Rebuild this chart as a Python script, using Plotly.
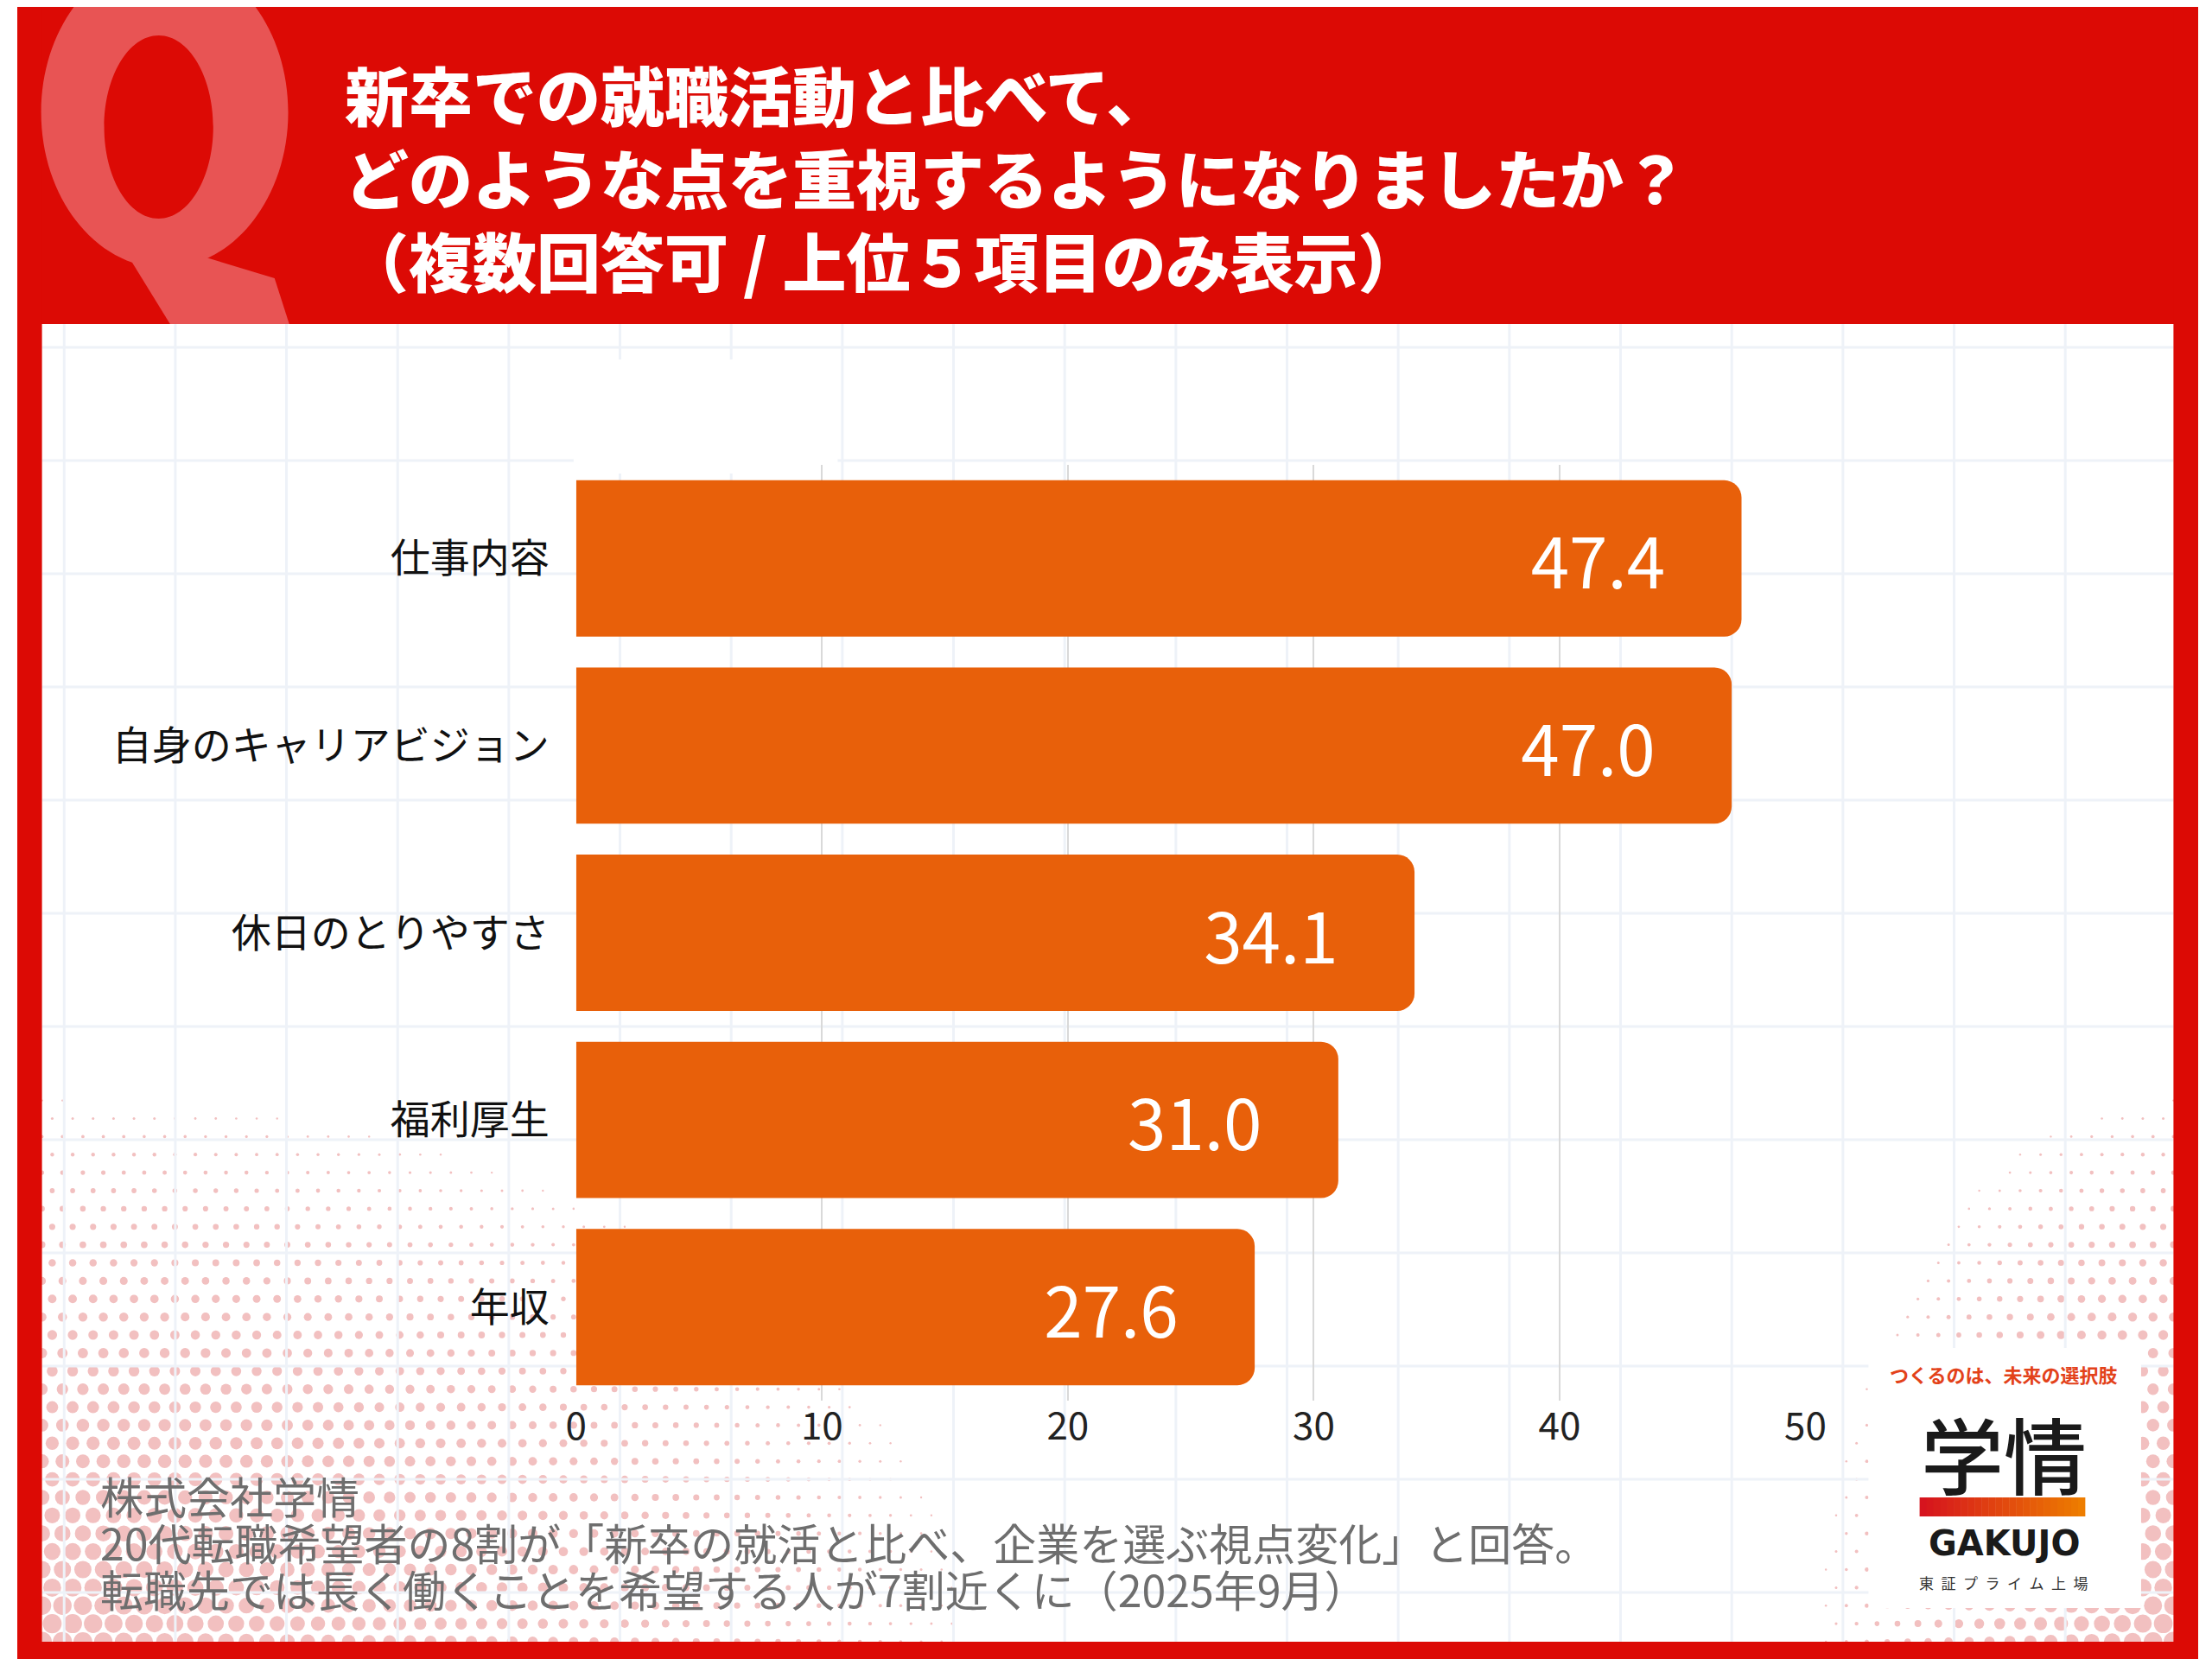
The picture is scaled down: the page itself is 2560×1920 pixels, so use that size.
import base64
import math

import plotly.graph_objects as go

# survey results (%), top to bottom
categories = ["仕事内容", "自身のキャリアビジョン", "休日のとりやすさ", "福利厚生", "年収"]
values = [47.4, 47.0, 34.1, 31.0, 27.6]
x_ticks = [0, 10, 20, 30, 40, 50]

title_lines = [
    "新卒での就職活動と比べて、",
    "どのような点を重視するようになりましたか？",
    "（複数回答可 / 上位５項目のみ表示）",
]
source_lines = [
    "株式会社学情",
    "20代転職希望者の8割が「新卒の就活と比べ、企業を選ぶ視点変化」と回答。",
    "転職先では長く働くことを希望する人が7割近くに（2025年9月）",
]

W, H = 2560, 1920
HEADER = 367
PANEL = (29, 2531, 1892)  # left, right, bottom of the white panel
RED = "#DC0A05"
BAR = "#E8600A"
JP = "Noto Sans CJK JP"


def px(x):
    return x / W


def py(y):
    # pixel from top -> paper fraction from bottom
    return (H - y) / H


def ellipse_path(cx, cy, rx, ry):
    # header coords: y measured from the top of the image
    k = 0.5523
    cy = HEADER - cy
    return (
        f"M {cx - rx},{cy} "
        f"C {cx - rx},{cy + k * ry} {cx - k * rx},{cy + ry} {cx},{cy + ry} "
        f"C {cx + k * rx},{cy + ry} {cx + rx},{cy + k * ry} {cx + rx},{cy} "
        f"C {cx + rx},{cy - k * ry} {cx + k * rx},{cy - ry} {cx},{cy - ry} "
        f"C {cx - k * rx},{cy - ry} {cx - rx},{cy - k * ry} {cx - rx},{cy} Z "
    )


def halftone(corner_x, corner_y, ext_x, ext_y, direction, step=24, rmax=11.5):
    # decorative pink dot texture fading away from a panel corner
    row = step * 0.87
    dots = []
    for j in range(int(ext_y / row) + 2):
        y = corner_y - j * row
        off = step / 2 if j % 2 else 0
        for i in range(int(ext_x / step) + 2):
            x = corner_x + direction * (i * step + off)
            e = math.hypot((x - corner_x) / ext_x, (corner_y - y) / ext_y)
            if e < 1:
                r = rmax * (1 - e)
                if r >= 1.2:
                    dots.append(f'<circle cx="{x:.1f}" cy="{y:.1f}" r="{r:.1f}"/>')
    return dots


circles = halftone(PANEL[0], PANEL[2], 1200, 700, 1) + halftone(PANEL[1], PANEL[2], 460, 700, -1)
svg = (
    f'<svg xmlns="http://www.w3.org/2000/svg" width="{W}" height="{H}" viewBox="0 0 {W} {H}">'
    f'<g fill="#F2C0C0">{"".join(circles)}</g></svg>'
)
dots_src = "data:image/svg+xml;base64," + base64.b64encode(svg.encode()).decode()

fig = go.Figure()

fig.add_trace(
    go.Bar(
        x=values,
        y=categories,
        orientation="h",
        marker=dict(color=BAR, cornerradius=20, line=dict(width=0)),
        texttemplate="%{x:.1f}\u2003",
        textposition="inside",
        insidetextanchor="end",
        textfont=dict(family=JP, size=80, color="white"),
        showlegend=False,
        hoverinfo="skip",
    )
)

shapes = []
# graph-paper background lines
gx = 55
while gx < PANEL[1]:
    shapes.append(dict(type="line", xref="paper", yref="paper", x0=px(gx), x1=px(gx),
                       y0=py(PANEL[2]), y1=py(HEADER), line=dict(color="#EEF2F8", width=3), layer="below"))
    gx += 130.5
gy = 394
while gy < PANEL[2]:
    shapes.append(dict(type="line", xref="paper", yref="paper", x0=px(PANEL[0]), x1=px(PANEL[1]),
                       y0=py(gy), y1=py(gy), line=dict(color="#EEF2F8", width=3), layer="below"))
    gy += 131
# empty legend box left over in the original
shapes.append(dict(type="rect", xref="paper", yref="paper", x0=px(653), x1=px(963),
                   y0=py(540), y1=py(408), fillcolor="white", line=dict(width=0), layer="below"))
# red frame: header band and borders
for x0, x1, y0, y1 in [(0, W, 0, HEADER), (0, PANEL[0], 0, H), (PANEL[1], W, 0, H), (0, W, PANEL[2], H)]:
    shapes.append(dict(type="rect", xref="paper", yref="paper", x0=px(x0), x1=px(x1),
                       y0=py(y1), y1=py(y0), fillcolor=RED, line=dict(width=0), layer="above"))
# big faded "Q" in the header (drawn on x2/y2 so the panel edge clips it)
q_col = "#E85454"
shapes.append(dict(type="path", xref="x2", yref="y2", fillrule="evenodd",
                   path=ellipse_path(173, 122, 145, 180) + ellipse_path(166, 139, 64, 106),
                   fillcolor=q_col, line=dict(width=0), layer="above"))
tail = [(130, 288), (215, 288), (302, 314), (330, 400), (200, 400)]
shapes.append(dict(type="path", xref="x2", yref="y2",
                   path="M " + " L ".join(f"{x},{HEADER - y}" for x, y in tail) + " Z",
                   fillcolor=q_col, line=dict(width=0), layer="above"))
# logo box
shapes.append(dict(type="rect", xref="paper", yref="paper", x0=px(2173), x1=px(2493),
                   y0=py(1853), y1=py(1552), fillcolor="white", line=dict(width=0), layer="above"))
# logo gradient bar
n_seg = 24
c0, c1 = (214, 20, 30), (238, 125, 0)
seg_w = (2427 - 2233) / n_seg
for i in range(n_seg):
    t = i / (n_seg - 1)
    col = "rgb({},{},{})".format(*[int(a + (b - a) * t) for a, b in zip(c0, c1)])
    shapes.append(dict(type="rect", xref="paper", yref="paper",
                       x0=px(2233 + i * seg_w), x1=px(2233 + (i + 1) * seg_w + 0.5),
                       y0=py(1747), y1=py(1725), fillcolor=col, line=dict(width=0), layer="above"))

annotations = [
    dict(text="<br>".join(title_lines), x=px(382), y=py(196), xref="paper", yref="paper",
         xanchor="left", yanchor="middle", align="left", showarrow=False,
         font=dict(family=JP, size=74, color="white", weight=900)),
]
for line, yc in zip(source_lines, [1722, 1776, 1830]):
    annotations.append(dict(text=line, x=px(95), y=py(yc), xref="paper", yref="paper",
                            xanchor="left", yanchor="middle", showarrow=False,
                            font=dict(family=JP, size=50, color="#6E6E6E")))

logo_cx = px(2332)
logo_texts = [
    ("つくるのは、未来の選択肢", 1582, dict(family=JP, size=22, color="#E3421A", weight="bold")),
    ("学情", 1672, dict(family=JP, size=96, color="#1A1A1A", weight=500)),
    ("GAKUJO", 1778, dict(family="DejaVu Sans", size=40, color="#1A1A1A", weight="bold")),
    ("東\u2002証\u2002プ\u2002ラ\u2002イ\u2002ム\u2002上\u2002場", 1823,
     dict(family=JP, size=17, color="#333333")),
]
for txt, yc, fnt in logo_texts:
    annotations.append(dict(text=txt, x=logo_cx, y=py(yc), xref="paper", yref="paper",
                            xanchor="center", yanchor="middle", showarrow=False, font=fnt))

fig.update_layout(
    width=W,
    height=H,
    margin=dict(l=0, r=0, t=0, b=0),
    paper_bgcolor="white",
    plot_bgcolor="rgba(0,0,0,0)",
    bargap=0.165,
    showlegend=False,
    shapes=shapes,
    annotations=annotations,
    images=[dict(source=dots_src, xref="paper", yref="paper", x=0, y=1, sizex=1, sizey=1,
                 xanchor="left", yanchor="top", sizing="stretch", layer="below")],
    xaxis=dict(
        domain=[px(656), px(2099)],
        range=[0, 50],
        tickvals=x_ticks,
        showgrid=True,
        gridcolor="#D9D9D9",
        gridwidth=2,
        zeroline=False,
        showline=False,
        ticks="",
        tickfont=dict(family=JP, size=44, color="#222222"),
        fixedrange=True,
    ),
    yaxis=dict(
        domain=[py(1613), py(530)],
        autorange="reversed",
        showgrid=False,
        zeroline=False,
        showline=False,
        ticks="",
        ticklabelstandoff=30,
        tickfont=dict(family=JP, size=46, color="#111111"),
        fixedrange=True,
    ),
    xaxis2=dict(domain=[0, 1], range=[0, W], anchor="y2", visible=False, fixedrange=True),
    yaxis2=dict(domain=[py(HEADER), 1], range=[0, HEADER], anchor="x2", visible=False, fixedrange=True),
)

fig.write_html("out.html")
